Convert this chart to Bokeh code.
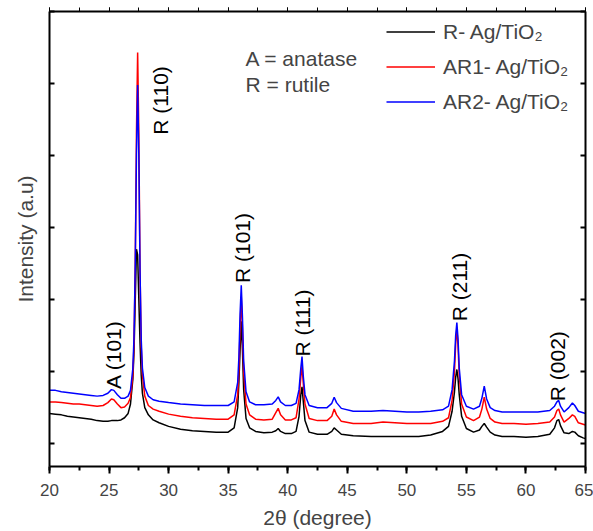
import math
from bokeh.plotting import figure
from bokeh.models import (Range1d, LinearAxis, SingleIntervalTicker, Legend, LegendItem, Label)
from bokeh.embed import file_html
from bokeh.resources import INLINE

# ---- data ----
two_theta = [20.0, 20.5, 21.0, 21.5, 22.0, 22.5, 23.0, 23.5, 24.0, 24.5, 24.9, 25.2, 25.4, 25.7,
             26.0, 26.3, 26.6, 26.8, 27.0, 27.1, 27.2, 27.3, 27.4, 27.5, 27.6, 27.7, 27.8, 28.0,
             28.3, 28.7, 29.2, 30.0, 31.0, 32.0, 33.0, 34.0, 35.0, 35.5, 35.8, 35.9, 36.0, 36.1,
             36.2, 36.3, 36.5, 36.8, 37.3, 38.0, 38.7, 39.0, 39.2, 39.4, 39.8, 40.3, 40.7, 40.95,
             41.1, 41.2, 41.3, 41.45, 41.8, 42.5, 43.3, 43.7, 43.9, 44.1, 44.5, 45.5, 47.0, 48.0,
             49.0, 50.0, 51.0, 52.0, 53.0, 53.5, 53.8, 54.0, 54.1, 54.2, 54.3, 54.4, 54.6, 55.0,
             55.6, 56.1, 56.3, 56.5, 56.7, 57.0, 57.4, 58.0, 59.0, 60.0, 61.0, 62.0, 62.4, 62.6,
             62.75, 62.9, 63.2, 63.6, 63.9, 64.1, 64.4, 64.8, 65.0]

r_ag_tio2 = [0.42, 0.41, 0.40, 0.38, 0.37, 0.36, 0.35, 0.34, 0.32, 0.31, 0.31, 0.32, 0.32, 0.32,
             0.33, 0.36, 0.42, 0.55, 0.90, 1.30, 2.00, 2.70, 2.62, 2.00, 1.40, 0.95, 0.70, 0.50,
             0.40, 0.33, 0.29, 0.24, 0.20, 0.18, 0.17, 0.16, 0.16, 0.22, 0.50, 0.85, 1.30, 1.70,
             1.30, 0.75, 0.35, 0.22, 0.17, 0.15, 0.16, 0.18, 0.21, 0.17, 0.14, 0.14, 0.17, 0.38,
             0.68, 0.79, 0.60, 0.32, 0.16, 0.13, 0.13, 0.17, 0.22, 0.19, 0.13, 0.11, 0.10, 0.10,
             0.10, 0.10, 0.10, 0.12, 0.17, 0.24, 0.45, 0.72, 0.92, 1.03, 0.90, 0.68, 0.38, 0.21,
             0.16, 0.19, 0.24, 0.28, 0.23, 0.16, 0.12, 0.10, 0.10, 0.09, 0.10, 0.13, 0.22, 0.32,
             0.335, 0.25, 0.15, 0.14, 0.17, 0.16, 0.11, 0.08, 0.07]

ar1_ag_tio2 = [0.58, 0.58, 0.57, 0.56, 0.55, 0.55, 0.54, 0.53, 0.52, 0.53, 0.57, 0.62, 0.61, 0.55,
               0.50, 0.51, 0.56, 0.64, 0.95, 1.40, 2.50, 4.30, 5.43, 4.30, 2.40, 1.35, 0.95, 0.66,
               0.53, 0.48, 0.45, 0.41, 0.38, 0.36, 0.35, 0.34, 0.34, 0.40, 0.68, 1.00, 1.60, 2.04,
               1.60, 1.00, 0.55, 0.40, 0.34, 0.33, 0.34, 0.43, 0.49, 0.40, 0.33, 0.33, 0.36, 0.62,
               0.92, 1.08, 0.85, 0.55, 0.35, 0.32, 0.32, 0.38, 0.48, 0.40, 0.31, 0.28, 0.28, 0.30,
               0.29, 0.28, 0.28, 0.28, 0.31, 0.36, 0.60, 1.00, 1.38, 1.61, 1.35, 0.95, 0.55, 0.37,
               0.32, 0.37, 0.48, 0.645, 0.48, 0.35, 0.30, 0.28, 0.28, 0.27, 0.28, 0.30, 0.37, 0.46,
               0.48, 0.40, 0.30, 0.35, 0.40, 0.38, 0.29, 0.27, 0.26]

ar2_ag_tio2 = [0.74, 0.74, 0.72, 0.71, 0.70, 0.69, 0.68, 0.67, 0.66, 0.67, 0.70, 0.75, 0.74, 0.68,
               0.63, 0.63, 0.66, 0.74, 1.05, 1.50, 2.50, 4.00, 4.98, 4.00, 2.40, 1.45, 1.05, 0.78,
               0.66, 0.61, 0.59, 0.57, 0.55, 0.54, 0.53, 0.53, 0.53, 0.58, 0.85, 1.20, 1.80, 2.20,
               1.75, 1.15, 0.72, 0.58, 0.54, 0.54, 0.55, 0.60, 0.65, 0.58, 0.53, 0.53, 0.56, 0.75,
               1.05, 1.21, 0.95, 0.68, 0.53, 0.50, 0.50, 0.56, 0.645, 0.57, 0.49, 0.45, 0.45, 0.46,
               0.45, 0.44, 0.44, 0.45, 0.47, 0.52, 0.75, 1.15, 1.50, 1.68, 1.45, 1.05, 0.68, 0.52,
               0.48, 0.52, 0.63, 0.80, 0.62, 0.50, 0.46, 0.44, 0.44, 0.44, 0.44, 0.46, 0.52, 0.58,
               0.60, 0.52, 0.44, 0.50, 0.565, 0.53, 0.45, 0.43, 0.42]

series_names = ["R- Ag/TiO\u2082", "AR1- Ag/TiO\u2082", "AR2- Ag/TiO\u2082"]
series_colors = ["#000000", "#ff0000", "#0000ff"]

peak_labels = ["A (101)", "R (110)", "R (101)", "R (111)", "R (211)", "R (002)"]
peak_label_x = [25.37, 29.32, 36.20, 41.24, 54.42, 62.65]
peak_label_y = [0.76, 4.29, 2.23, 1.21, 1.70, 0.59]

x_ticks_interval = 5
FONT = "Liberation Sans"

p = figure(width=593, height=531, output_backend="svg", toolbar_location=None,
           x_range=Range1d(20, 65), y_range=Range1d(-0.317, 6.0),
           min_border_left=49, min_border_right=8, min_border_top=11, min_border_bottom=63,
           x_axis_label="2\u03b8 (degree)", y_axis_label="Intensity (a.u)")
p.outline_line_color = None
p.xgrid.visible = False
p.ygrid.visible = False

renderers = []
for ys, c in zip([r_ag_tio2, ar1_ag_tio2, ar2_ag_tio2], series_colors):
    renderers.append(p.line(two_theta, ys, line_color=c, line_width=1.5))

xt = SingleIntervalTicker(interval=x_ticks_interval, num_minor_ticks=2)
yt = SingleIntervalTicker(interval=1, num_minor_ticks=0)

xa = p.xaxis[0]
xa.ticker = xt
xa.axis_line_width = 2
xa.major_tick_line_width = 2
xa.minor_tick_line_width = 2
xa.major_tick_out = 7
xa.major_tick_in = 0
xa.minor_tick_out = 4
xa.minor_tick_in = 0
xa.major_label_text_font = FONT
xa.major_label_text_font_size = "17px"
xa.major_label_standoff = 10
xa.axis_label_text_font = FONT
xa.axis_label_text_font_size = "21px"
xa.axis_label_text_font_style = "normal"
xa.axis_label_standoff = 7

ya = p.yaxis[0]
ya.ticker = yt
ya.axis_line_width = 2
ya.major_tick_line_width = 2
ya.major_tick_out = 0
ya.major_tick_in = 5
ya.minor_tick_line_color = None
ya.major_label_text_font_size = "1px"
ya.major_label_text_color = None
ya.major_label_standoff = 0
ya.axis_label_text_font = FONT
ya.axis_label_text_font_size = "21px"
ya.axis_label_text_font_style = "normal"
ya.axis_label_standoff = 13

top = LinearAxis(ticker=SingleIntervalTicker(interval=x_ticks_interval, num_minor_ticks=2),
                 axis_line_width=2, major_tick_out=4, major_tick_in=0, minor_tick_out=4,
                 minor_tick_in=0, major_label_text_font_size="1px", major_label_text_color=None,
                 major_label_standoff=0)
p.add_layout(top, "above")
right = LinearAxis(ticker=SingleIntervalTicker(interval=1, num_minor_ticks=0),
                   axis_line_width=2, major_tick_line_width=2, major_tick_out=0, major_tick_in=5,
                   minor_tick_line_color=None, major_label_text_font_size="1px",
                   major_label_text_color=None, major_label_standoff=0)
p.add_layout(right, "right")

legend = Legend(items=[LegendItem(label=n, renderers=[r]) for n, r in zip(series_names, renderers)],
                location=(337, 347), glyph_width=49, glyph_height=35, label_height=35,
                label_standoff=8, spacing=0, padding=0, margin=0,
                border_line_color=None, background_fill_alpha=0,
                label_text_font=FONT, label_text_font_size="21px")
p.add_layout(legend)

for t, lx, ly in zip(peak_labels, peak_label_x, peak_label_y):
    p.add_layout(Label(x=lx, y=ly, text=t, angle=math.pi / 2, text_align="left",
                       text_baseline="middle", text_font=FONT, text_font_size="21px",
                       text_color="#000000"))

p.add_layout(Label(x=36.46, y=5.35, text="A = anatase", text_font=FONT,
                   text_font_size="21px", text_baseline="alphabetic"))
p.add_layout(Label(x=36.46, y=4.98, text="R = rutile", text_font=FONT,
                   text_font_size="21px", text_baseline="alphabetic"))

open("out.html", "w").write(file_html(p, INLINE))
